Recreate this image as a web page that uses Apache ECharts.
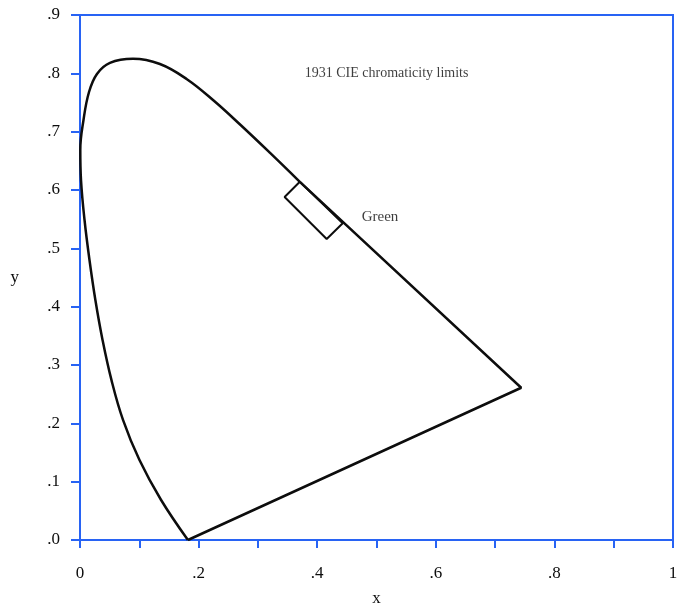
<!DOCTYPE html>
<html>
<head>
<meta charset="utf-8">
<script src="https://cdn.jsdelivr.net/npm/echarts@6/dist/echarts.min.js"></script>
<style>
  html, body { margin: 0; padding: 0; background: #fff; }
  #chart { width: 686px; height: 607px; }
</style>
</head>
<body>
<div id="chart"></div>
<script>
// curved part of the spectral locus (x, y chromaticity)
var locusPoints = [
  [0.182, 0.000], [0.1365, 0.069], [0.1003, 0.137], [0.0725, 0.206],
  [0.0531, 0.274], [0.038, 0.343], [0.026, 0.411], [0.016, 0.480],
  [0.0076, 0.549], [0.0017, 0.617], [0.0005, 0.669], [0.0059, 0.720],
  [0.0152, 0.768], [0.0286, 0.799], [0.0505, 0.818], [0.0893, 0.825],
  [0.1348, 0.816], [0.1803, 0.790], [0.2258, 0.753], [0.2713, 0.711],
  [0.3201, 0.664], [0.3707, 0.614]
];
// straight red end of the locus, then the line of purples
var straightEdge = [[0.3707, 0.614], [0.744, 0.261], [0.182, 0.000]];
// "Green" box
var greenBox = [[0.3707, 0.614], [0.345, 0.588], [0.416, 0.516], [0.443, 0.543], [0.3707, 0.614]];

var xTickLabels = ['0', '.2', '.4', '.6', '.8', '1'];
var yTickLabels = ['.0', '.1', '.2', '.3', '.4', '.5', '.6', '.7', '.8', '.9'];

var notes = [
  { text: '1931 CIE chromaticity limits', x: 0.517, y: 0.800, align: 'center', size: 14 },
  { text: 'Green', x: 0.475, y: 0.554, align: 'left', size: 15 }
];

var blue = '#2863f4';
var ink = '#0d0d0d';
var serif = '"Liberation Serif", "DejaVu Serif", serif';

var chart = echarts.init(document.getElementById('chart'));

var option = {
  animation: false,
  backgroundColor: '#fff',
  grid: {
    left: 80, right: 13, top: 15, bottom: 67,
    containLabel: false, outerBoundsMode: 'none',
    show: true, borderColor: blue, borderWidth: 2
  },
  xAxis: {
    type: 'value', min: 0, max: 1, interval: 0.1,
    name: 'x', nameLocation: 'middle', nameGap: 50,
    nameTextStyle: { color: ink, fontFamily: serif, fontSize: 17 },
    axisLine: { lineStyle: { color: blue, width: 2 } },
    axisTick: { show: true, length: 8, lineStyle: { color: blue, width: 2 } },
    splitLine: { show: false },
    axisLabel: {
      margin: 25, color: ink, fontFamily: serif, fontSize: 17,
      formatter: function (v) {
        var k = Math.round(v * 10);
        return k % 2 ? '' : xTickLabels[k / 2];
      }
    }
  },
  yAxis: {
    type: 'value', min: 0, max: 0.9, interval: 0.1,
    name: 'y', nameLocation: 'middle', nameGap: 61, nameRotate: 0,
    nameTextStyle: { color: ink, fontFamily: serif, fontSize: 17 },
    axisLine: { lineStyle: { color: blue, width: 2 } },
    axisTick: { show: true, length: 9, lineStyle: { color: blue, width: 2 } },
    splitLine: { show: false },
    axisLabel: {
      margin: 20, color: ink, fontFamily: serif, fontSize: 17,
      formatter: function (v) { return yTickLabels[Math.round(v * 10)]; }
    }
  },
  series: [
    {
      type: 'line', data: locusPoints, smooth: 0.4, showSymbol: false,
      lineStyle: { color: ink, width: 2.5 }
    },
    {
      type: 'line', data: straightEdge, showSymbol: false,
      lineStyle: { color: ink, width: 2.5 }
    },
    {
      type: 'line', data: greenBox, showSymbol: false,
      lineStyle: { color: ink, width: 2 }
    },
    {
      type: 'scatter', symbolSize: 0, silent: true,
      data: notes.map(function (n) {
        return {
          value: [n.x, n.y],
          label: {
            show: true, formatter: n.text, position: 'inside', align: n.align,
            color: ink, fontFamily: serif, fontSize: n.size
          }
        };
      })
    }
  ]
};

chart.setOption(option);
</script>
</body>
</html>
